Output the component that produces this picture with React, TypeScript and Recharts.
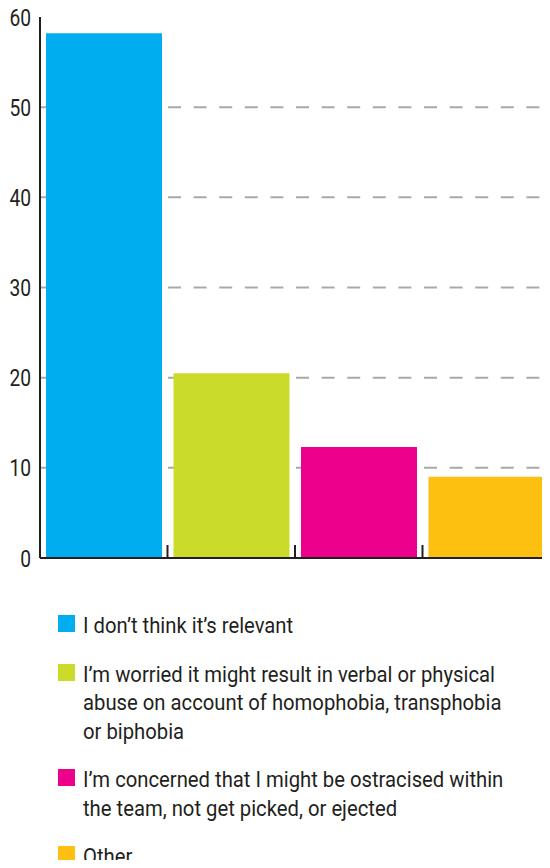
import { BarChart, Bar, Cell, XAxis, YAxis, CartesianGrid } from 'recharts';

const categories = [
  'I don\u2019t think it\u2019s relevant',
  'I\u2019m worried it might result in verbal or physical abuse on account of homophobia, transphobia or biphobia',
  'I\u2019m concerned that I might be ostracised within the team, not get picked, or ejected',
  'Other',
];
const legendLines = [
  ['I don\u2019t think it\u2019s relevant'],
  ['I\u2019m worried it might result in verbal or physical', 'abuse on account of homophobia, transphobia', 'or biphobia'],
  ['I\u2019m concerned that I might be ostracised within', 'the team, not get picked, or ejected'],
  ['Other'],
];
const values = [58.2, 20.5, 12.3, 9.0];
const colors = ['#00aeef', '#cbdb2a', '#ec008c', '#fdc010'];
const yTicks = [0, 10, 20, 30, 40, 50, 60];
const gridValues = [10, 20, 30, 40, 50];

const data = categories.map((name, i) => ({ name, value: values[i] }));

const FONT = 'Roboto, "Noto Sans", sans-serif';
const INK = '#231f20';

// tick mark at the right edge of each category band, pointing up
const BoundaryTick = (props: any) => {
  const { x, y, payload, index } = props;
  if (index >= categories.length - 1) return null;
  const bx = x + (payload.offset || 0);
  return <line x1={bx} x2={bx} y1={y} y2={y - 13} stroke={INK} strokeWidth={2} />;
};

// condensed-looking y labels
const YTick = (props: any) => {
  const { x, y, payload } = props;
  return (
    <text
      transform={`translate(${x - 1},${y}) scale(0.8,1)`}
      textAnchor="end"
      dy={8.5}
      fill={INK}
      fontSize={24}
      fontFamily={FONT}
    >
      {payload.value}
    </text>
  );
};

export default function App() {
  return (
    <div style={{ margin: -8, width: 550, height: 868, overflow: 'hidden', fontFamily: FONT }}>
      <BarChart
        width={550}
        height={575}
        data={data}
        margin={{ top: 17, right: 0, bottom: 0, left: 0 }}
        barSize={116}
      >
        <CartesianGrid
          vertical={false}
          horizontalValues={gridValues}
          stroke="#a7a9ac"
          strokeWidth={2}
          strokeDasharray="13 12.6"
        />
        <XAxis
          dataKey="name"
          height={17}
          tickLine={false}
          tickSize={0}
          tickMargin={0}
          axisLine={{ stroke: INK, strokeWidth: 2 }}
          tick={<BoundaryTick />}
          interval={0}
        />
        <YAxis
          width={40}
          domain={[0, 60]}
          ticks={yTicks}
          tickLine={false}
          axisLine={{ stroke: INK, strokeWidth: 2 }}
          tick={<YTick />}
          interval={0}
        />
        <Bar dataKey="value" isAnimationActive={false}>
          {data.map((d, i) => (
            <Cell key={d.name} fill={colors[i]} />
          ))}
        </Bar>
      </BarChart>
      <div style={{ marginTop: 36, paddingLeft: 58 }}>
        {legendLines.map((lines, i) => (
          <div key={i} style={{ display: 'flex', alignItems: 'flex-start', marginBottom: 20 }}>
            <div style={{ width: 17, height: 17, background: colors[i], marginTop: 4, marginRight: 8, flexShrink: 0 }} />
            <div
              style={{
                fontSize: 22.5,
                lineHeight: '28.5px',
                color: INK,
                whiteSpace: 'nowrap',
                transform: 'scaleX(0.9)',
                transformOrigin: 'left top',
              }}
            >
              {lines.map((l) => (
                <div key={l}>{l}</div>
              ))}
            </div>
          </div>
        ))}
      </div>
    </div>
  );
}
